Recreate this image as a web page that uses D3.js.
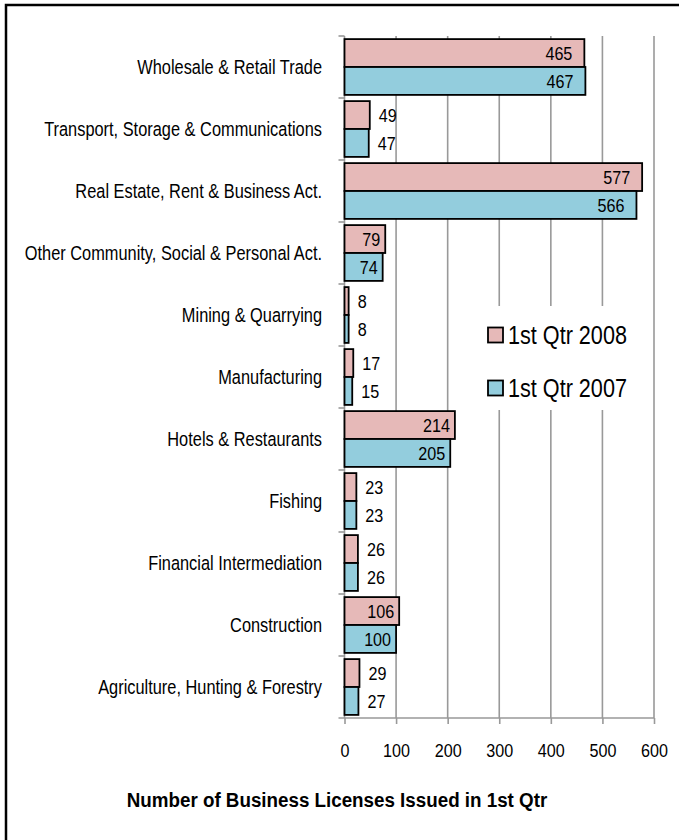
<!DOCTYPE html>
<html>
<head>
<meta charset="utf-8">
<style>
body { margin: 0; background: #fff; }
svg text { font-family: "Liberation Sans Narrow", "Arial Narrow", "Liberation Sans", sans-serif; fill: #000; }
</style>
</head>
<body>
<svg id="chart" width="679" height="840"></svg>
<script src="https://d3js.org/d3.v7.min.js"></script>
<script>
let categories = [
    "Wholesale & Retail Trade",
    "Transport, Storage & Communications",
    "Real Estate, Rent & Business Act.",
    "Other Community, Social & Personal Act.",
    "Mining & Quarrying",
    "Manufacturing",
    "Hotels & Restaurants",
    "Fishing",
    "Financial Intermediation",
    "Construction",
    "Agriculture, Hunting & Forestry"
];
let q2008 = [465, 49, 577, 79, 8, 17, 214, 23, 26, 106, 29];
let q2007 = [467, 47, 566, 74, 8, 15, 205, 23, 26, 100, 27];
let seriesNames = ["1st Qtr 2008", "1st Qtr 2007"];
let xTicks = [0, 100, 200, 300, 400, 500, 600];

let colors = ["#e6b9b8", "#93cddd"];
let svg = d3.select("#chart");

// no narrow font installed, so squeeze a regular one
function place(sel, fx, fy, sx) {
    sel.attr("transform", (d, i) => "translate(" + fx(d, i) + "," + fy(d, i) + ") scale(" + sx + ",1)");
}

// frame
svg.append("rect")
    .attr("x", 6).attr("y", 5)
    .attr("width", 720).attr("height", 900)
    .attr("fill", "none").attr("stroke", "#000").attr("stroke-width", 2.5);

let plotLeft = 344.5, plotRight = 654, plotTop = 36, plotBottom = 718;

let x = d3.scaleLinear().domain([0, 600]).range([plotLeft, plotRight]);
let y = d3.scaleBand().domain(categories).range([plotTop, plotBottom]).paddingInner(0.1).paddingOuter(0.05);
let ys = d3.scaleBand().domain([0, 1]).range([0, y.bandwidth()]);

let chart = svg.append("g");

// gridlines
chart.append("g").selectAll("line")
    .data(xTicks.slice(1))
    .join("line")
    .attr("x1", d => x(d)).attr("x2", d => x(d))
    .attr("y1", plotTop).attr("y2", plotBottom)
    .attr("stroke", "#999").attr("stroke-width", 1.6);

// x axis
let xAxis = chart.append("g")
    .attr("transform", "translate(0," + plotBottom + ")")
    .call(d3.axisBottom(x).tickValues(xTicks).tickSize(6).tickSizeOuter(0));
xAxis.select(".domain").attr("stroke", "#999").attr("stroke-width", 1.6)
    .attr("d", "M" + (plotLeft - 6) + ",0H" + plotRight);
xAxis.selectAll(".tick line").attr("stroke", "#999").attr("stroke-width", 1.6);
xAxis.selectAll(".tick text")
    .attr("x", null).attr("y", null).attr("dy", "0.36em")
    .attr("font-size", 19)
    .attr("font-family", "'Liberation Sans Narrow', 'Arial Narrow', 'Liberation Sans', sans-serif")
    .attr("transform", "translate(0,32) scale(0.85,1)");

// y axis
let boundaries = categories.map((c, i) => plotTop + i * (plotBottom - plotTop) / categories.length);
chart.append("line")
    .attr("x1", plotLeft).attr("x2", plotLeft).attr("y1", plotTop).attr("y2", plotBottom)
    .attr("stroke", "#999").attr("stroke-width", 1.6);
chart.append("g").selectAll("line")
    .data(boundaries)
    .join("line")
    .attr("x1", plotLeft - 6).attr("x2", plotLeft)
    .attr("y1", d => d).attr("y2", d => d)
    .attr("stroke", "#999").attr("stroke-width", 1.6);

chart.append("g").selectAll("text")
    .data(categories)
    .join("text")
    .attr("dy", "0.35em")
    .attr("text-anchor", "end")
    .attr("font-size", 19.5)
    .text(d => d)
    .call(place, () => 322, d => y(d) + y.bandwidth() / 2, 0.84);

// bars
let series = [q2008, q2007];
series.forEach((vals, s) => {
    let g = chart.append("g");
    g.selectAll("rect")
        .data(vals)
        .join("rect")
        .attr("x", x(0))
        .attr("y", (d, i) => y(categories[i]) + ys(s))
        .attr("width", d => x(d) - x(0))
        .attr("height", ys.bandwidth())
        .attr("fill", colors[s])
        .attr("stroke", "#000").attr("stroke-width", 1.8);
    g.selectAll("text")
        .data(vals)
        .join("text")
        .attr("dy", "0.36em")
        .attr("text-anchor", d => d >= 70 ? "end" : "start")
        .attr("font-size", 19)
        .text(d => d)
        .call(place,
            d => d >= 70 ? x(d) - (d > 300 ? 12 : 5) : x(d) + 9,
            (d, i) => y(categories[i]) + ys(s) + ys.bandwidth() / 2,
            0.85);
});

// legend
let legend = svg.append("g");
legend.append("rect")
    .attr("x", 475).attr("y", 306).attr("width", 168).attr("height", 104)
    .attr("fill", "#fff");
seriesNames.forEach((name, i) => {
    let ly = 335 + i * 53;
    legend.append("rect")
        .attr("x", 488).attr("y", ly - 7.5).attr("width", 15).attr("height", 15)
        .attr("fill", colors[i]).attr("stroke", "#000").attr("stroke-width", 1.8);
    legend.append("text")
        .attr("dy", "0.36em")
        .attr("font-size", 25)
        .attr("transform", "translate(508," + ly + ") scale(0.865,1)")
        .text(name);
});

// title
svg.append("text")
    .attr("text-anchor", "middle")
    .attr("font-size", 21).attr("font-weight", "bold")
    .attr("transform", "translate(337,807) scale(0.895,1)")
    .text("Number of Business Licenses Issued in 1st Qtr");
</script>
</body>
</html>
